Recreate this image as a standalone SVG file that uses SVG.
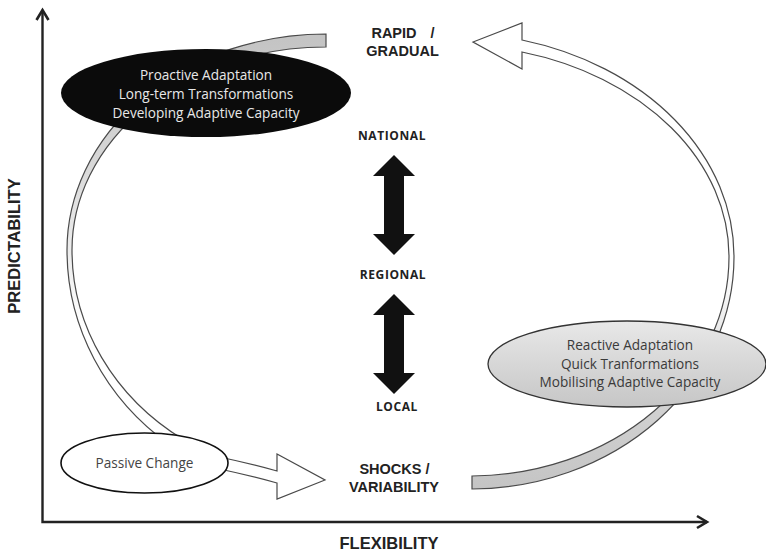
<svg xmlns="http://www.w3.org/2000/svg" width="766" height="552" viewBox="0 0 766 552">
  <style>
    .axis { fill: none; stroke: #222; stroke-width: 2.4; }
    .band { stroke: #4a4a4a; stroke-width: 1.2; stroke-linejoin: miter; }
    .scale { fill: #111; }
    .cap { font-family: "Liberation Sans", Arial, sans-serif; font-weight: bold; fill: #222; text-anchor: middle; }
    .lvl { font-family: "Open Sans", "Noto Sans", sans-serif; font-weight: bold; font-size: 12px; letter-spacing: 0.6px; fill: #222; text-anchor: middle; }
    .body { font-family: "Open Sans", "Noto Sans", sans-serif; font-size: 13.6px; text-anchor: middle; }
  </style>
  <defs>
    <marker id="chevron" markerUnits="userSpaceOnUse" markerWidth="16" markerHeight="16" viewBox="0 0 16 16" refX="12" refY="8" orient="auto-start-reverse">
      <path d="M2,2 L12,8 L2,14" fill="none" stroke="#222" stroke-width="2.6"/>
    </marker>
    <linearGradient id="fadeDown" gradientUnits="userSpaceOnUse" x1="0" y1="40" x2="0" y2="330">
      <stop offset="0" stop-color="#c4c4c4"/>
      <stop offset="0.4" stop-color="#d6d6d6"/>
      <stop offset="1" stop-color="#ffffff"/>
    </linearGradient>
    <linearGradient id="fadeUp" gradientUnits="userSpaceOnUse" x1="0" y1="490" x2="0" y2="270">
      <stop offset="0" stop-color="#c4c4c4"/>
      <stop offset="0.45" stop-color="#d4d4d4"/>
      <stop offset="1" stop-color="#ffffff"/>
    </linearGradient>
    <linearGradient id="greyOval" x1="0" y1="0" x2="0" y2="1">
      <stop offset="0" stop-color="#e8e8e8"/>
      <stop offset="1" stop-color="#c6c6c6"/>
    </linearGradient>
  </defs>

  <!-- axes -->
  <g id="axes">
    <path class="axis" d="M42.5,10 V522 H707" marker-start="url(#chevron)" marker-end="url(#chevron)"/>
    <text class="cap" font-size="16.5" transform="translate(20,246) rotate(-90)">PREDICTABILITY</text>
    <text class="cap" font-size="16.5" x="389" y="549">FLEXIBILITY</text>
  </g>

  <!-- connectors -->
  <g id="connectors">
    <!-- long arc on the left, from the top label down into the passive oval -->
    <path class="band" fill="url(#fadeDown)" d="M326,34 A259,216 0 0 0 67,250 A259,244 0 0 0 170,445 L184,440 A254,229 0 0 1 72,250 A254,203 0 0 1 326,47 Z"/>
    <!-- short arrow out of the passive oval -->
    <path class="band" fill="#fff" d="M215,456 Q248,463 277,471 L277,454 L325,480 L277,499 L277,483 Q248,475 215,468 Z"/>
    <!-- long arc on the right, from the bottom label back up to the top label -->
    <path class="band" fill="url(#fadeUp)" d="M472,476 A259,219 0 0 0 729,257 A279,212 0 0 0 522,52 L522,69 L473,42 L522,23 L522,40 A284,224 0 0 1 734,257 A264,232 0 0 1 472,489 Z"/>
    <!-- scale arrows -->
    <polygon class="scale" points="394,155 415,176 404,176 404,234 415,234 394,255 373,234 384,234 384,176 373,176"/>
    <polygon class="scale" points="394,294 415,315 404,315 404,373 415,373 394,394 373,373 384,373 384,315 373,315"/>
  </g>

  <!-- nodes -->
  <g id="proactive">
    <ellipse cx="206" cy="93" rx="145" ry="44" fill="#0b0b0b"/>
    <text class="body" fill="#e8e8e8" x="206" y="80">Proactive Adaptation</text>
    <text class="body" fill="#e8e8e8" x="206" y="99">Long-term Transformations</text>
    <text class="body" fill="#e8e8e8" x="206" y="117.5">Developing Adaptive Capacity</text>
  </g>

  <g id="passive">
    <ellipse cx="144.5" cy="463" rx="83.5" ry="30" fill="#fff" stroke="#111" stroke-width="1.6"/>
    <text class="body" fill="#444" x="144.5" y="468">Passive Change</text>
  </g>

  <g id="reactive">
    <ellipse cx="627" cy="364" rx="139" ry="43" fill="url(#greyOval)" stroke="#333" stroke-width="1.3"/>
    <text class="body" fill="#3a3a3a" x="630" y="350">Reactive Adaptation</text>
    <text class="body" fill="#3a3a3a" x="630" y="368.5">Quick Tranformations</text>
    <text class="body" fill="#3a3a3a" x="630" y="387">Mobilising Adaptive Capacity</text>
  </g>

  <g id="rapid-gradual">
    <text class="cap" font-size="14.5" x="403" y="38" word-spacing="10">RAPID /</text>
    <text class="cap" font-size="14.5" x="402.5" y="56">GRADUAL</text>
  </g>

  <g id="shocks-variability">
    <text class="cap" font-size="14.5" x="394.5" y="474">SHOCKS /</text>
    <text class="cap" font-size="14.5" x="394" y="492">VARIABILITY</text>
  </g>

  <g id="national">
    <text class="lvl" x="392" y="140">NATIONAL</text>
  </g>
  <g id="regional">
    <text class="lvl" x="393" y="279">REGIONAL</text>
  </g>
  <g id="local">
    <text class="lvl" x="397" y="411">LOCAL</text>
  </g>
</svg>
